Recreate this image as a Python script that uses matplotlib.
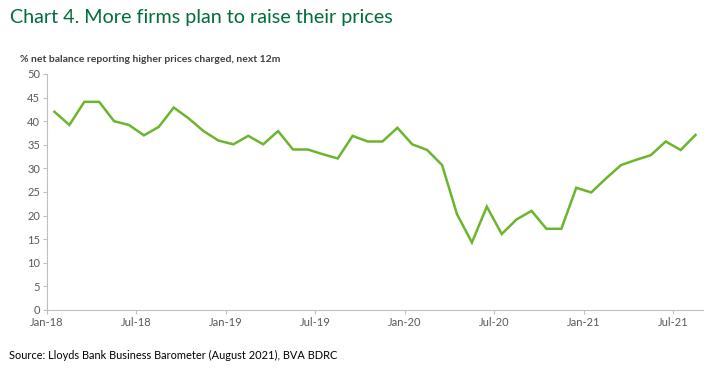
import numpy as np
import matplotlib
matplotlib.use("Agg")
import matplotlib.pyplot as plt

# monthly net balance, Jan-18 .. Aug-21
values = [42.0, 39.2, 44.1, 44.1, 40.0, 39.2, 37.0, 38.8, 42.9, 40.6, 37.9, 35.9,
          35.1, 36.9, 35.1, 37.9, 34.0, 34.0, 33.0, 32.1, 36.9, 35.7,
          35.7, 38.6, 35.1, 33.9, 30.7, 20.3, 14.3, 21.9, 16.1, 19.2, 21.0, 17.2,
          17.2, 25.9, 24.9, 27.9, 30.7, 31.8, 32.8, 35.7, 33.9, 37.1]
tick_labels = ["Jan-18", "Jul-18", "Jan-19", "Jul-19", "Jan-20", "Jul-20", "Jan-21", "Jul-21"]
y_ticks = [0, 5, 10, 15, 20, 25, 30, 35, 40, 45, 50]

plt.rcParams['font.family'] = ['Lato', 'DejaVu Sans']

fig = plt.figure(figsize=(7.09, 3.73), dpi=100)
ax = fig.add_axes([47/709, 1-310/373, (703-47)/709, (310-74)/373])

x = np.arange(len(values)) + 0.5
ax.plot(x, values, color='#6cb52d', lw=1.8, solid_joinstyle='miter')

ax.set_xlim(0, len(values))
ax.set_ylim(0, 50)
ax.set_xticks(np.arange(0, 6*len(tick_labels), 6))
ax.set_xticklabels(tick_labels)
ax.set_yticks(y_ticks)

for s in ['top', 'right']:
    ax.spines[s].set_visible(False)
for s in ['left', 'bottom']:
    ax.spines[s].set_color('#bfbfbf')
    ax.spines[s].set_linewidth(0.8)
ax.tick_params(axis='both', colors='#bfbfbf', labelcolor='#595959', labelsize=8, length=3, width=0.8)
ax.tick_params(axis='x', pad=2)
ax.tick_params(axis='y', pad=2)

fig.text(10/709, 1-18/373, "Chart 4. More firms plan to raise their prices", color='#006d3a',
         fontsize=14.2, va='center', ha='left')
fig.text(20/709, 1-60/373, "% net balance reporting higher prices charged, next 12m", color='#404040',
         fontsize=7.5, fontweight='bold', va='center', ha='left')
fig.text(9/709, 1-355/373, "Source: Lloyds Bank Business Barometer (August 2021), BVA BDRC", color='#000000',
         fontsize=7.9, va='center', ha='left')

fig.savefig("out.png", dpi=100)
